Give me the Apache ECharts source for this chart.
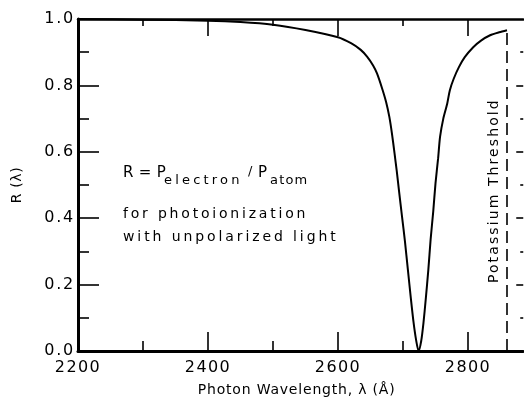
<!DOCTYPE html>
<html>
<head>
<meta charset="utf-8">
<script src="https://cdn.jsdelivr.net/npm/echarts@6/dist/echarts.min.js"></script>
<style>
  html, body { margin: 0; padding: 0; background: #fff; }
  #chart { width: 524px; height: 402px; }
</style>
</head>
<body>
<div id="chart"></div>
<script>
// Photon wavelength (Å) and the polarization ratio R(λ)
const wavelength = [2200, 2300, 2400, 2450, 2500, 2550, 2600, 2620, 2635, 2645,
  2654, 2660, 2668, 2674, 2679, 2683, 2687, 2690.5, 2694, 2698.5,
  2703, 2707.5, 2712, 2716, 2720, 2724, 2728, 2731.5, 2735, 2739,
  2742.5, 2746.5, 2750, 2754, 2757, 2762, 2768, 2772, 2778, 2786,
  2795, 2808, 2820, 2834, 2848, 2860];
const ratio = [1.0, 0.998, 0.995, 0.991, 0.983, 0.967, 0.945, 0.927, 0.907, 0.886,
  0.86, 0.836, 0.79, 0.75, 0.705, 0.655, 0.595, 0.54, 0.48, 0.405,
  0.33, 0.245, 0.16, 0.09, 0.035, 0.0, 0.03, 0.085, 0.156, 0.245,
  0.336, 0.42, 0.505, 0.58, 0.645, 0.70, 0.745, 0.785, 0.82, 0.855,
  0.885, 0.915, 0.935, 0.951, 0.96, 0.966];

// Potassium ionization threshold
const thresholdWavelength = 2860;
const thresholdRatio = 0.966;

// Axis ranges (the frame is cut by the right page edge) and tick positions
const xRange = { min: 2200, max: 2885, step: 200 };
const yRange = { min: 0, max: 1, step: 0.2 };
const xMajorTicks = [2400, 2600, 2800];
const xMinorTicks = [2300, 2500, 2700];
const yMajorTicks = [0.2, 0.4, 0.6, 0.8];
const yMinorTicks = [0.1, 0.3, 0.5, 0.7, 0.9];

const FONT = 'DejaVu Sans, sans-serif';
const INK = '#000';

// Hand-lettered look: extra letter spacing for chart text as it is painted
const spacing = {
  'Photon Wavelength, λ (Å)': 0.8,
  'R (λ)': 0.6,
  'Potassium Threshold': 2.1,
  'R = P': 0.3,
  'electron': 3.2,
  'atom': 1.2,
  'for photoionization': 2.8,
  'with unpolarized light': 2.9
};
function spacingFor(s) {
  if (spacing[s] !== undefined) return spacing[s];
  if (/^\d{4}$/.test(s)) return 1.4;
  if (/^\d\.\d$/.test(s)) return 1.8;
  return 0;
}
(function () {
  const proto = CanvasRenderingContext2D.prototype;
  const baseFillText = proto.fillText;
  proto.fillText = function (text, x, y, maxWidth) {
    const ls = spacingFor(String(text));
    const useLs = ls && ('letterSpacing' in this);
    const prev = useLs ? this.letterSpacing : null;
    if (useLs) this.letterSpacing = ls + 'px';
    if (maxWidth === undefined) baseFillText.call(this, text, x, y);
    else baseFillText.call(this, text, x, y, maxWidth);
    if (useLs) this.letterSpacing = prev;
  };
})();

const grid = { left: 78, top: 19, width: 445.25, height: 333 };
const pxPerX = grid.width / (xRange.max - xRange.min);
const pxPerY = grid.height / (yRange.max - yRange.min);

// Inward tick marks on the frame, as short segments in data coordinates
const tickLength = {
  bottom: { major: 19, minor: 10 },
  top: { major: 17, minor: 7 },
  left: { major: 21, minor: 11 },
  right: { major: 7, minor: 3 }
};
function tickSegment(side, v, len) {
  if (side === 'bottom') return [[v, yRange.min], [v, yRange.min + len / pxPerY]];
  if (side === 'top') return [[v, yRange.max], [v, yRange.max - len / pxPerY]];
  if (side === 'left') return [[xRange.min, v], [xRange.min + len / pxPerX, v]];
  return [[xRange.max, v], [xRange.max - len / pxPerX, v]];
}
const tickLines = [];
['bottom', 'top'].forEach(side => {
  xMajorTicks.forEach(v => tickLines.push(tickSegment(side, v, tickLength[side].major)));
  xMinorTicks.forEach(v => tickLines.push(tickSegment(side, v, tickLength[side].minor)));
});
['left', 'right'].forEach(side => {
  yMajorTicks.forEach(v => tickLines.push(tickSegment(side, v, tickLength[side].major)));
  yMinorTicks.forEach(v => tickLines.push(tickSegment(side, v, tickLength[side].minor)));
});

const chart = echarts.init(document.getElementById('chart'), null, { renderer: 'canvas' });

const baseX = {
  type: 'value',
  min: xRange.min, max: xRange.max, interval: xRange.step,
  splitLine: { show: false },
  axisTick: { show: false },
  axisLine: { show: true, onZero: false, lineStyle: { color: INK, width: 3 } }
};

chart.setOption({
  animation: false,
  grid: grid,
  xAxis: [
    Object.assign({}, baseX, {
      position: 'bottom',
      axisLabel: { color: INK, fontFamily: FONT, fontSize: 16, margin: 9, showMaxLabel: false,
        formatter: v => String(v) },
      name: 'Photon Wavelength, λ (Å)',
      nameLocation: 'middle',
      nameGap: 32,
      nameTextStyle: { color: INK, fontFamily: FONT, fontSize: 14, padding: [0, 8, 0, 0] }
    }),
    Object.assign({}, baseX, {
      position: 'top',
      axisLine: { show: true, onZero: false, lineStyle: { color: INK, width: 2.5 } },
      axisLabel: { show: false }
    })
  ],
  yAxis: {
    type: 'value',
    position: 'left',
    min: yRange.min, max: yRange.max, interval: yRange.step,
    splitLine: { show: false },
    axisTick: { show: false },
    axisLine: { show: true, onZero: false, lineStyle: { color: INK, width: 3 } },
    axisLabel: { color: INK, fontFamily: FONT, fontSize: 16, margin: 3,
      formatter: v => v.toFixed(1) },
    name: 'R (λ)',
    nameLocation: 'middle',
    nameRotate: 90,
    nameGap: 54,
    nameTextStyle: { color: INK, fontFamily: FONT, fontSize: 14 }
  },
  series: [{
    type: 'line',
    xAxisIndex: 0,
    data: wavelength.map((w, i) => [w, ratio[i]]),
    showSymbol: false,
    symbol: 'none',
    smooth: 0.25,
    lineStyle: { color: INK, width: 2 },
    markLine: {
      silent: true,
      symbol: ['none', 'none'],
      lineStyle: { color: INK, width: 1.6, type: 'solid' },
      label: { show: false },
      emphasis: { disabled: true },
      data: [
        [
          {
            name: 'threshold',
            coord: [thresholdWavelength, 0],
            lineStyle: { color: INK, width: 1.6, type: [12, 6] },
            label: {
              show: true,
              position: 'insideMiddleTop',
              distance: 6,
              formatter: 'Potassium Threshold',
              color: INK,
              fontFamily: FONT,
              fontSize: 14
            }
          },
          { coord: [thresholdWavelength, thresholdRatio] }
        ]
      ].concat(tickLines.map(seg => [{ coord: seg[0] }, { coord: seg[1] }]))
    }
  }],
  graphic: [
    { type: 'text', x: 123, y: 173, style: { text: 'R = P', fill: INK, font: '15px ' + FONT, align: 'left', verticalAlign: 'middle' } },
    { type: 'text', x: 164, y: 181, style: { text: 'electron', fill: INK, font: '13px ' + FONT, align: 'left', verticalAlign: 'middle' } },
    { type: 'text', x: 248, y: 172, style: { text: '/', fill: INK, font: '13px ' + FONT, align: 'left', verticalAlign: 'middle' } },
    { type: 'text', x: 258, y: 173, style: { text: 'P', fill: INK, font: '15px ' + FONT, align: 'left', verticalAlign: 'middle' } },
    { type: 'text', x: 270, y: 181, style: { text: 'atom', fill: INK, font: '13px ' + FONT, align: 'left', verticalAlign: 'middle' } },
    { type: 'text', x: 123, y: 214, style: { text: 'for photoionization', fill: INK, font: '14px ' + FONT, align: 'left', verticalAlign: 'middle' } },
    { type: 'text', x: 123, y: 237, style: { text: 'with unpolarized light', fill: INK, font: '14px ' + FONT, align: 'left', verticalAlign: 'middle' } }
  ]
});
</script>
</body>
</html>
